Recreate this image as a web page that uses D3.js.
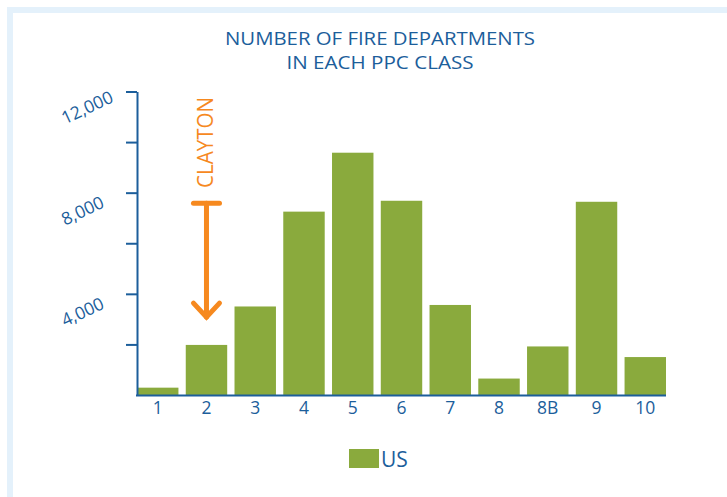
<!DOCTYPE html>
<html>
<head>
<meta charset="utf-8">
<script src="https://cdn.jsdelivr.net/npm/d3@7"></script>
<style>
  body { margin: 0; background: #fff; }
  text { font-family: "Open Sans", "Noto Sans", sans-serif; }
</style>
</head>
<body>
<svg id="chart" width="727" height="497"></svg>
<script>
// PPC classes and number of fire departments (US)
var classes = ["1", "2", "3", "4", "5", "6", "7", "8", "8B", "9", "10"];
var departments = [290, 1980, 3500, 7250, 9580, 7680, 3560, 650, 1920, 7640, 1500];
var yTicks = [2000, 4000, 6000, 8000, 10000, 12000];
var yLabels = [4000, 8000, 12000];
var titleLines = ["NUMBER OF FIRE DEPARTMENTS", "IN EACH PPC CLASS"];
var seriesName = "US";
// annotation: Clayton sits in class 2
var markClass = "2";
var markFrom = 7580;
var markTo = 3080;

var blue = "#1c5e9b";
var green = "#8aaa3d";
var orange = "#f6891f";

var svg = d3.select("#chart");

// light frame top and left
svg.append("rect").attr("x", 7).attr("y", 7).attr("width", 720).attr("height", 6).attr("fill", "#e4f1fb");
svg.append("rect").attr("x", 7).attr("y", 7).attr("width", 6).attr("height", 490).attr("fill", "#e4f1fb");

var xScale = d3.scaleBand()
    .domain(classes)
    .range([137, 666])
    .paddingInner(0.15)
    .paddingOuter(0);

var yScale = d3.scaleLinear()
    .domain([0, 12000])
    .range([395, 91.5]);

// title
svg.append("g")
    .selectAll("text")
    .data(titleLines)
    .enter()
    .append("text")
    .attr("x", 380)
    .attr("y", function (d, i) { return 45 + i * 23.5; })
    .attr("text-anchor", "middle")
    .attr("fill", blue)
    .style("font-size", "17.5px")
    .attr("textLength", function (d, i) { return i == 0 ? 310 : 187; })
    .attr("lengthAdjust", "spacingAndGlyphs")
    .text(function (d) { return d; });

// bars
svg.append("g")
    .selectAll("rect")
    .data(departments)
    .enter()
    .append("rect")
    .attr("x", function (d, i) { return xScale(classes[i]); })
    .attr("y", function (d) { return yScale(d); })
    .attr("width", xScale.bandwidth())
    .attr("height", function (d) { return yScale(0) - yScale(d); })
    .attr("fill", green);

// y axis
var yAxis = svg.append("g")
    .attr("transform", "translate(137,0)")
    .call(d3.axisLeft(yScale).tickValues(yTicks).tickSize(11).tickSizeOuter(0).tickFormat(""));
yAxis.selectAll("path, line").attr("stroke", blue).attr("stroke-width", 2);

svg.append("g")
    .selectAll("text")
    .data(yLabels)
    .enter()
    .append("text")
    .attr("transform", function (d) { return "translate(65," + (yScale(d) + 33) + ") rotate(-25)"; })
    .attr("fill", blue)
    .style("font-size", "17.5px")
    .text(function (d) { return d3.format(",")(d); });

// x axis
svg.append("line")
    .attr("x1", 136).attr("x2", 666)
    .attr("y1", yScale(0) + 0.5).attr("y2", yScale(0) + 0.5)
    .attr("stroke", blue)
    .attr("stroke-width", 2);

svg.append("g")
    .selectAll("text")
    .data(classes)
    .enter()
    .append("text")
    .attr("x", function (d) { return xScale(d) + xScale.bandwidth() / 2; })
    .attr("y", 414)
    .attr("text-anchor", "middle")
    .attr("fill", blue)
    .style("font-size", "17.5px")
    .text(function (d) { return d; });

// Clayton arrow
var ax = xScale(markClass) + xScale.bandwidth() / 2;
var arrow = svg.append("g")
    .attr("stroke", orange)
    .attr("stroke-width", 5)
    .attr("stroke-linecap", "round")
    .attr("fill", "none");
arrow.append("line").attr("x1", ax).attr("x2", ax).attr("y1", yScale(markFrom)).attr("y2", yScale(markTo));
arrow.append("line").attr("x1", ax - 13).attr("x2", ax + 13).attr("y1", yScale(markFrom)).attr("y2", yScale(markFrom));
arrow.append("path")
    .attr("stroke-linejoin", "miter")
    .attr("d", "M" + (ax - 13) + "," + (yScale(markTo) - 14) + "L" + ax + "," + yScale(markTo) + "L" + (ax + 13) + "," + (yScale(markTo) - 14));

svg.append("text")
    .attr("transform", "translate(" + (ax + 7) + ",188) rotate(-90)")
    .attr("fill", orange)
    .style("font-size", "21px")
    .attr("textLength", 91)
    .attr("lengthAdjust", "spacingAndGlyphs")
    .text("CLAYTON");

// legend
svg.append("rect")
    .attr("x", 349).attr("y", 449)
    .attr("width", 30).attr("height", 19)
    .attr("fill", green);
svg.append("text")
    .attr("x", 381).attr("y", 467)
    .attr("fill", blue)
    .style("font-size", "21px")
    .text(seriesName);
</script>
</body>
</html>
